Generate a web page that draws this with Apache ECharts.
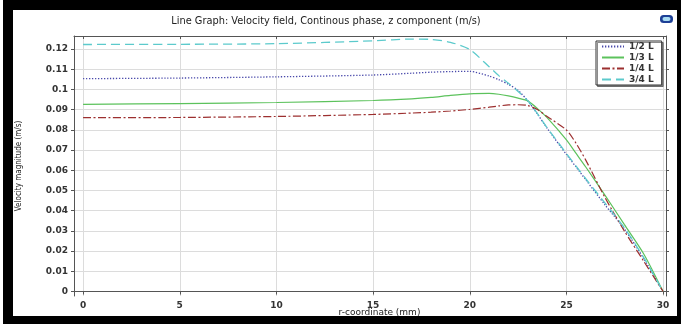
<!DOCTYPE html>
<html>
<head>
<meta charset="utf-8">
<script src="https://cdn.jsdelivr.net/npm/echarts@6/dist/echarts.min.js"></script>
<style>
  html, body { margin: 0; padding: 0; background: #fff; }
  #outer { position: absolute; left: 3px; top: 0; width: 678px; height: 324px; background: #000; }
  #panel { position: absolute; left: 13px; top: 10px; width: 664px; height: 306px; background: #fff; }
  #chart { position: absolute; left: 0; top: 0; width: 681px; height: 324px; }
</style>
</head>
<body>
<div id="outer"></div>
<div id="panel"></div>
<div id="chart"></div>
<script>
// r-coordinate samples (mm)
const rCoord = [0, 5, 10, 15, 17, 18, 19, 20, 21, 21.5, 22, 22.5, 23, 23.5, 24, 25, 25.5, 26, 27, 28, 29, 30];

// z-velocity (m/s) at each height fraction
const halfL = [0.1053, 0.1056, 0.1062, 0.1071, 0.1080, 0.1085, 0.1088, 0.1089, 0.1066, 0.1048, 0.1025, 0.0995, 0.0943, 0.0878, 0.0808, 0.0678, 0.0616, 0.0553, 0.0428, 0.0310, 0.0163, 0];
const thirdL = [0.0926, 0.0930, 0.0935, 0.0945, 0.0953, 0.0960, 0.0970, 0.0978, 0.0980, 0.0976, 0.0968, 0.0957, 0.0943, 0.0905, 0.0860, 0.0750, 0.0683, 0.0616, 0.0476, 0.0331, 0.0186, 0];
const quarterL = [0.0860, 0.0861, 0.0866, 0.0876, 0.0883, 0.0887, 0.0893, 0.0901, 0.0912, 0.0918, 0.0923, 0.0924, 0.0920, 0.0900, 0.0866, 0.0799, 0.0733, 0.0650, 0.0464, 0.0299, 0.0150, 0];
const threeQuarterL = [0.1222, 0.1223, 0.1226, 0.1240, 0.1249, 0.1247, 0.1233, 0.1197, 0.1112, 0.1068, 0.1030, 0.0990, 0.0944, 0.0880, 0.0811, 0.0683, 0.0620, 0.0558, 0.0437, 0.0315, 0.0168, 0];

const seriesNames = ['1/2 L', '1/3 L', '1/4 L', '3/4 L'];

// Axis tick positions
const xTicks = [0, 5, 10, 15, 20, 25, 30];
const yTicks = [0, 0.01, 0.02, 0.03, 0.04, 0.05, 0.06, 0.07, 0.08, 0.09, 0.1, 0.11, 0.12];

const FONT = 'DejaVu Sans';
const frameColor = '#555';
const gridColor = '#dcdcdc';

const pairs = vals => rCoord.map((r, i) => [r, vals[i]]);

function lineSeries(name, vals, color, type, width) {
  return {
    name, type: 'line', data: pairs(vals),
    symbol: 'none', showSymbol: false, smooth: 0.25,
    lineStyle: { color, width, type },
    itemStyle: { color },
    emphasis: { disabled: true }
  };
}

const xRange = { min: -0.47, max: 30.15 };
const yRange = { min: -0.0022, max: 0.1264 };

const chart = echarts.init(document.getElementById('chart'), null, { renderer: 'canvas' });

chart.setOption({
  animation: false,
  backgroundColor: 'transparent',
  grid: { left: 74, right: 15, top: 36, bottom: 28, containLabel: false },
  graphic: [
    {
      type: 'text',
      style: {
        text: 'Line Graph: Velocity field, Continous phase, z component (m/s)',
        x: 326, y: 21, align: 'center', verticalAlign: 'middle',
        fontFamily: FONT, fontSize: 9.8, fill: '#222'
      }
    },
    {
      type: 'group',
      children: [
        { type: 'rect', shape: { x: 660, y: 15, width: 13, height: 8, r: 3.5 }, style: { fill: '#1d3f96' } },
        { type: 'rect', shape: { x: 662.5, y: 17, width: 8, height: 4, r: 2 }, style: { fill: '#a9dcf2' } }
      ]
    }
  ],
  legend: {
    orient: 'vertical', left: 596, top: 41,
    data: seriesNames,
    itemWidth: 22, itemHeight: 9, itemGap: 2,
    padding: [1, 8, 1, 5],
    backgroundColor: '#fff', borderColor: '#333', borderWidth: 1,
    shadowColor: 'rgba(0,0,0,0.45)', shadowOffsetX: 1.5, shadowOffsetY: 1.5, shadowBlur: 0,
    itemStyle: { color: 'transparent', borderColor: 'transparent', borderWidth: 0 },
    textStyle: { fontFamily: FONT, fontSize: 9, fontWeight: 'bold', color: '#333', lineHeight: 9 }
  },
  xAxis: [
    {
      type: 'value', position: 'bottom', ...xRange,
      name: 'r-coordinate (mm)', nameLocation: 'middle', nameGap: 12, nameMoveOverlap: false,
      nameTextStyle: { fontFamily: FONT, fontSize: 9, color: '#222', padding: [0, 0, 0, 19] },
      axisLine: { show: true, lineStyle: { color: frameColor, width: 1 } },
      axisTick: { show: true, length: 3, customValues: xTicks, lineStyle: { color: frameColor } },
      axisLabel: { customValues: xTicks, margin: 5, fontFamily: FONT, fontSize: 9, fontWeight: 'bold', color: '#333' },
      splitLine: { show: true, lineStyle: { color: gridColor, width: 1 } }
    },
    {
      type: 'value', position: 'top', ...xRange,
      axisLine: { show: true, onZero: false, lineStyle: { color: frameColor, width: 1 } },
      axisTick: { show: true, inside: true, length: 3, customValues: xTicks, lineStyle: { color: frameColor } },
      axisLabel: { show: false },
      splitLine: { show: false }
    }
  ],
  yAxis: [
    {
      type: 'value', position: 'left', ...yRange,
      name: 'Velocity magnitude (m/s)', nameLocation: 'middle', nameGap: 51, nameMoveOverlap: false,
      nameTextStyle: { fontFamily: 'DejaVu Sans Condensed, Liberation Sans', fontSize: 8, color: '#222' },
      axisLine: { show: true, onZero: false, lineStyle: { color: frameColor, width: 1 } },
      axisTick: { show: true, length: 3, customValues: yTicks, lineStyle: { color: frameColor } },
      axisLabel: {
        customValues: yTicks, margin: 6, fontFamily: FONT, fontSize: 9, fontWeight: 'bold', color: '#333',
        formatter: v => String(+Number(v).toFixed(2))
      },
      splitLine: { show: true, lineStyle: { color: gridColor, width: 1 } }
    },
    {
      type: 'value', position: 'right', ...yRange,
      axisLine: { show: true, onZero: false, lineStyle: { color: frameColor, width: 1 } },
      axisTick: { show: true, length: 3, customValues: yTicks, lineStyle: { color: frameColor } },
      axisLabel: { show: false },
      splitLine: { show: false }
    }
  ],
  series: [
    lineSeries('1/2 L', halfL, '#4848aa', [1.3, 1.7], 1.3),
    lineSeries('1/3 L', thirdL, '#5cc25c', 'solid', 1.2),
    lineSeries('1/4 L', quarterL, '#9c2f2f', [8, 2.5, 2, 2.5], 1.2),
    lineSeries('3/4 L', threeQuarterL, '#5ccacc', [9, 5], 1.3)
  ]
});
</script>
</body>
</html>
